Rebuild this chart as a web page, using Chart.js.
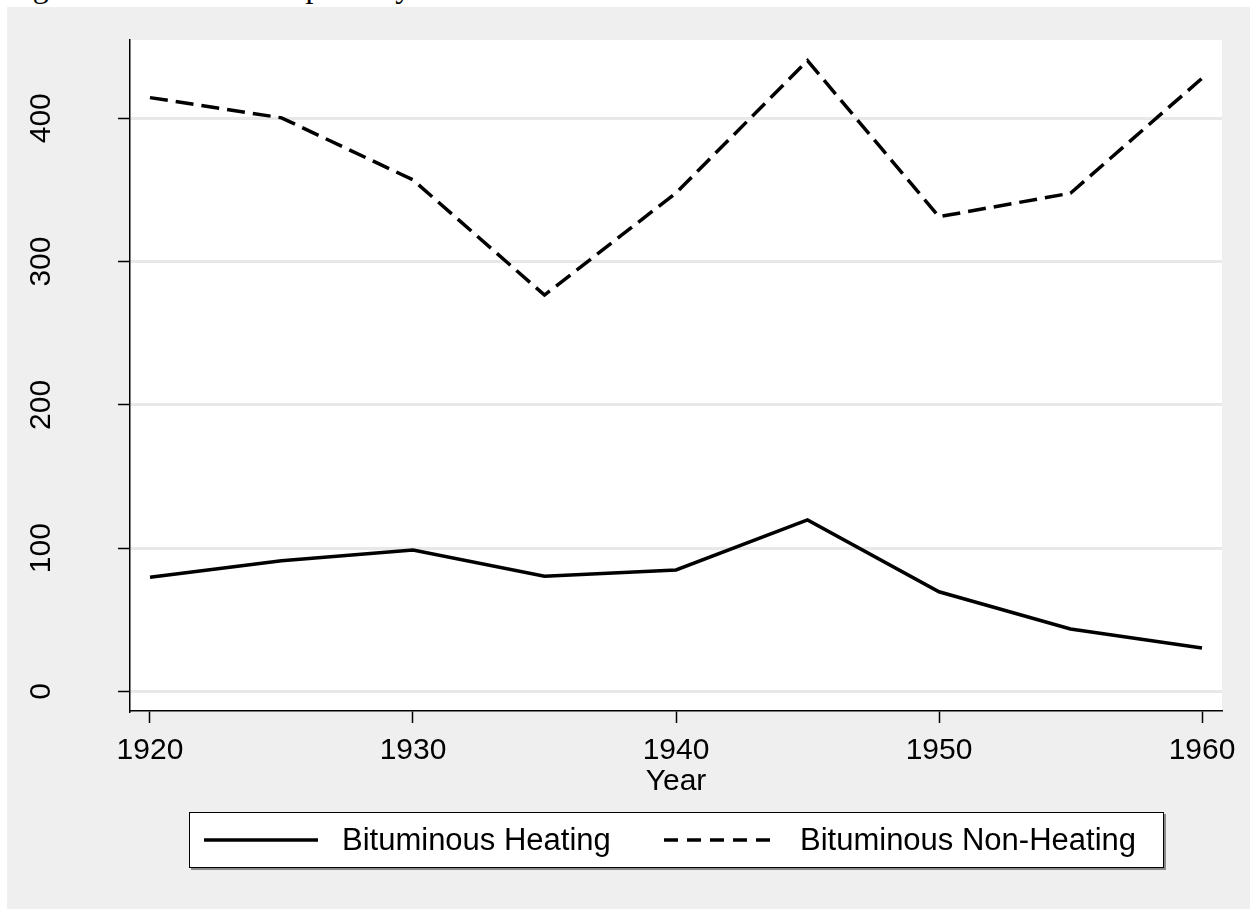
<!DOCTYPE html>
<html>
<head>
<meta charset="utf-8">
<script src="https://cdn.jsdelivr.net/npm/chart.js"></script>
<style>
  html, body { margin: 0; padding: 0; background: #fff; }
  body { width: 1250px; height: 909px; position: relative; overflow: hidden; }
  #caption {
    position: absolute; left: 6px; top: -30px; z-index: 0;
    font-family: "Liberation Serif", "Times New Roman", serif;
    font-size: 32px; line-height: 32px; color: #000; white-space: nowrap;
  }
  #panel {
    position: absolute; left: 7px; top: 7px; width: 1243px; height: 902px;
    background: #efefef; z-index: 1;
  }
  canvas { display: block; }
</style>
</head>
<body>
<div id="caption">Figure 1: Coal Consumption by Use</div>
<div id="panel"><canvas id="chart" width="1243" height="902"></canvas></div>
<script>
// values
const years = [1920, 1925, 1930, 1935, 1940, 1945, 1950, 1955, 1960];
const heating = [79.7, 91.3, 98.7, 80.4, 84.8, 119.7, 69.6, 43.6, 30.4];
const nonHeating = [414.4, 400.3, 357, 276.6, 347.9, 440.2, 331.3, 347.7, 427.9];
const seriesNames = ["Bituminous Heating", "Bituminous Non-Heating"];
const xTicks = [1920, 1930, 1940, 1950, 1960];
const yTicks = [0, 100, 200, 300, 400];

const FONT = "'Liberation Sans', Arial, Helvetica, sans-serif";

// white plot region on the grey panel
const plotBg = {
  id: "plotBg",
  beforeDraw(chart) {
    const { ctx, chartArea: a } = chart;
    ctx.save();
    ctx.fillStyle = "#fff";
    ctx.fillRect(a.left, a.top, a.right - a.left, a.bottom - a.top);
    ctx.restore();
  },
};

// boxed legend under the axis title
const boxLegend = {
  id: "boxLegend",
  afterDraw(chart) {
    const ctx = chart.ctx;
    const box = { left: 182, top: 805, right: 1157, bottom: 861 };
    const cy = 833;
    const items = [
      { x0: 197, x1: 311, tx: 335 },
      { x0: 657, x1: 765, tx: 793 },
    ];
    ctx.save();
    ctx.fillStyle = "#8a8a8a";
    ctx.fillRect(box.left + 2, box.top + 2, box.right - box.left, box.bottom - box.top);
    ctx.fillStyle = "#fff";
    ctx.fillRect(box.left, box.top, box.right - box.left, box.bottom - box.top);
    ctx.strokeStyle = "#000";
    ctx.lineWidth = 1;
    ctx.strokeRect(box.left + 0.5, box.top + 0.5, box.right - box.left - 1, box.bottom - box.top - 1);

    chart.data.datasets.forEach((ds, i) => {
      const it = items[i];
      ctx.beginPath();
      ctx.setLineDash(ds.borderDash ? [14, 9] : []);
      ctx.strokeStyle = ds.borderColor;
      ctx.lineWidth = ds.borderWidth;
      ctx.moveTo(it.x0, cy);
      ctx.lineTo(it.x1, cy);
      ctx.stroke();
      ctx.setLineDash([]);
      ctx.fillStyle = "#000";
      ctx.font = "31px " + FONT;
      ctx.textBaseline = "middle";
      ctx.textAlign = "left";
      ctx.fillText(ds.label, it.tx, cy + 1);
    });
    ctx.restore();
  },
};

const noEdgePadding = (s) => {
  s.paddingTop = 0;
  s.paddingBottom = 0;
  s.paddingLeft = 0;
  s.paddingRight = 0;
};

const ctx = document.getElementById("chart").getContext("2d");
new Chart(ctx, {
  type: "line",
  data: {
    datasets: [
      {
        label: seriesNames[0],
        data: years.map((yr, i) => ({ x: yr, y: heating[i] })),
        borderColor: "#000",
        borderWidth: 3.5,
        pointRadius: 0,
        tension: 0,
        fill: false,
      },
      {
        label: seriesNames[1],
        data: years.map((yr, i) => ({ x: yr, y: nonHeating[i] })),
        borderColor: "#000",
        borderWidth: 3.5,
        borderDash: [18, 8],
        pointRadius: 0,
        tension: 0,
        fill: false,
      },
    ],
  },
  options: {
    responsive: false,
    animation: false,
    devicePixelRatio: 1,
    layout: { padding: { top: 33, right: 28, bottom: 108, left: 0 } },
    scales: {
      x: {
        type: "linear",
        min: 1919.24,
        max: 1960.76,
        afterBuildTicks: (s) => { s.ticks = xTicks.map((v) => ({ value: v })); },
        afterFit: (s) => { s.height = 90; noEdgePadding(s); },
        ticks: {
          font: { family: FONT, size: 30 },
          color: "#000",
          padding: 10,
          maxRotation: 0,
          autoSkip: false,
          callback: (v) => String(v),
        },
        grid: { drawOnChartArea: false, tickLength: 12, tickColor: "#000", tickWidth: 1.5 },
        border: { color: "#000", width: 1.5 },
        title: {
          display: true,
          text: "Year",
          color: "#000",
          font: { family: FONT, size: 30 },
          padding: { top: 0, bottom: 1 },
        },
      },
      y: {
        min: -13.6,
        max: 454.6,
        afterBuildTicks: (s) => { s.ticks = yTicks.map((v) => ({ value: v })); },
        afterFit: (s) => { s.width = 123; noEdgePadding(s); },
        ticks: {
          font: { family: FONT, size: 30 },
          color: "#000",
          padding: 51,
          minRotation: 90,
          maxRotation: 90,
          crossAlign: "center",
        },
        grid: { color: "#e8e8e8", lineWidth: 3, tickLength: 12, tickColor: "#000", tickWidth: 1.5 },
        border: { color: "#000", width: 1.5 },
      },
    },
    plugins: {
      legend: { display: false },
      tooltip: { enabled: false },
    },
  },
  plugins: [plotBg, boxLegend],
});
</script>
</body>
</html>
